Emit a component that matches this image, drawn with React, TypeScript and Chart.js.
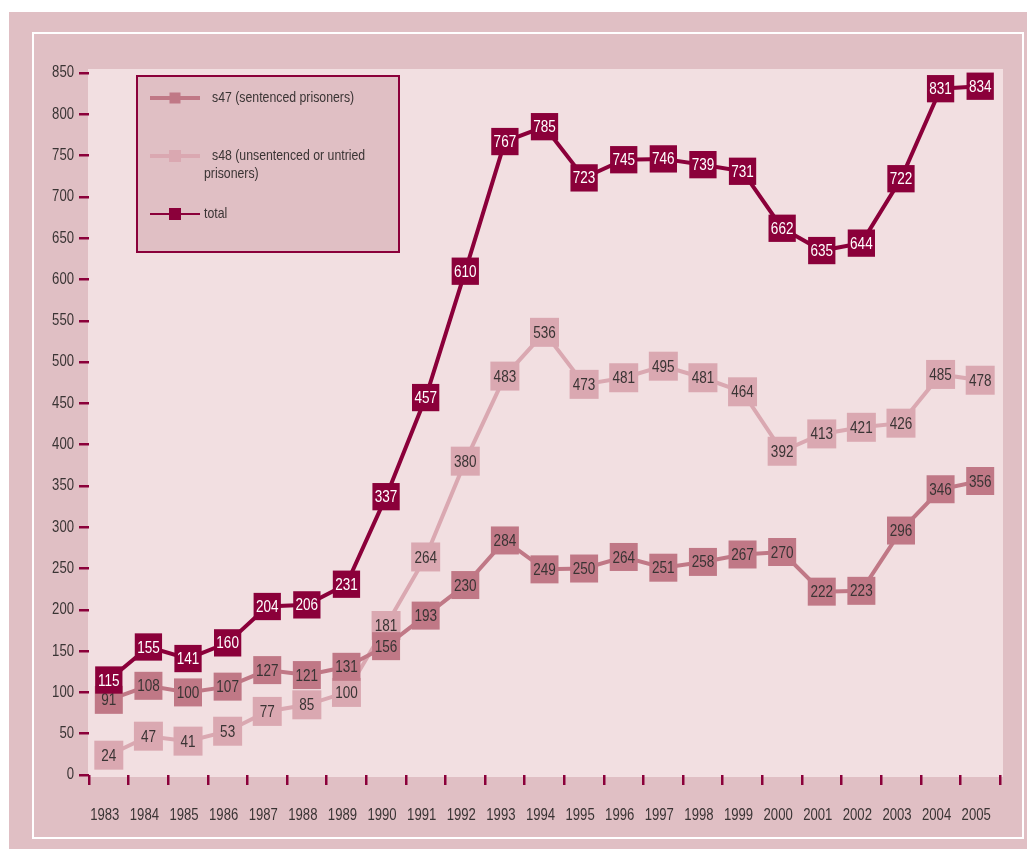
import React, { useEffect, useRef } from "react";
import { Chart, registerables } from "chart.js";

Chart.register(...registerables);

const years = ["1983", "1984", "1985", "1986", "1987", "1988", "1989", "1990", "1991", "1992", "1993", "1994", "1995", "1996", "1997", "1998", "1999", "2000", "2001", "2002", "2003", "2004", "2005"];
const s47 = [91, 108, 100, 107, 127, 121, 131, 156, 193, 230, 284, 249, 250, 264, 251, 258, 267, 270, 222, 223, 296, 346, 356];
const s48 = [24, 47, 41, 53, 77, 85, 100, 181, 264, 380, 483, 536, 473, 481, 495, 481, 464, 392, 413, 421, 426, 485, 478];
const total = [115, 155, 141, 160, 204, 206, 231, 337, 457, 610, 767, 785, 723, 745, 746, 739, 731, 662, 635, 644, 722, 831, 834];

const legendLabels = ["s47 (sentenced prisoners)", "s48 (unsentenced or untried", "prisoners)", "total"];

const FONT = "'Liberation Sans', Arial, sans-serif";
const SX = 0.82;
const C_TOTAL = "#8b003a";
const C_S47 = "#c07886";
const C_S48 = "#daa8b1";
const C_OUTER = "#e0bfc4";
const C_PLOT = "#f2dfe1";
const C_TEXT = "#3a3434";

const narrowFill = (ctx: any, text: string, x: number, y: number) => {
  ctx.save();
  ctx.translate(x, y);
  ctx.scale(SX, 1);
  ctx.fillText(text, 0, 0);
  ctx.restore();
};

const bgPlugin = {
  id: "bg",
  beforeDraw(chart: any) {
    const { ctx, chartArea: ca } = chart;
    ctx.save();
    ctx.fillStyle = C_OUTER;
    ctx.fillRect(9, 12, chart.width - 9, chart.height - 12);
    ctx.strokeStyle = "#ffffff";
    ctx.lineWidth = 2;
    ctx.strokeRect(33, 33, chart.width - 37, chart.height - 44);
    ctx.fillStyle = C_PLOT;
    ctx.fillRect(ca.left - 1, ca.top - 4, ca.right - ca.left + 4, ca.bottom - ca.top + 6);
    ctx.restore();
    // condense the axis tick labels drawn by Chart.js
    const orig = Object.getPrototypeOf(ctx).fillText;
    ctx.fillText = function (t: string, x: number, y: number, mw?: number) {
      this.save();
      this.translate(x, y);
      this.scale(SX, 1);
      orig.call(this, t, 0, 0);
      this.restore();
    };
  },
  beforeDatasetsDraw(chart: any) {
    delete chart.ctx.fillText;
  },
};

const labelPlugin = {
  id: "pointLabels",
  afterDatasetDraw(chart: any, args: any) {
    const { ctx } = chart;
    const meta = args.meta;
    const ds = chart.data.datasets[args.index];
    ctx.save();
    ctx.font = `16.5px ${FONT}`;
    ctx.textAlign = "center";
    ctx.textBaseline = "middle";
    ctx.fillStyle = ds.labelColor;
    meta.data.forEach((el: any, i: number) => {
      narrowFill(ctx, String(ds.data[i]), el.x, el.y + 1);
    });
    ctx.restore();
  },
};

const legendPlugin = {
  id: "customLegend",
  afterDraw(chart: any) {
    const { ctx, chartArea: ca } = chart;
    const x0 = ca.left + 48;
    const y0 = ca.top + 3;
    ctx.save();
    ctx.fillStyle = C_OUTER;
    ctx.fillRect(x0, y0, 262, 176);
    ctx.strokeStyle = C_TOTAL;
    ctx.lineWidth = 2;
    ctx.strokeRect(x0, y0, 262, 176);

    const item = (y: number, color: string, lw: number, m: number) => {
      ctx.strokeStyle = color;
      ctx.lineWidth = lw;
      ctx.beginPath();
      ctx.moveTo(x0 + 13, y);
      ctx.lineTo(x0 + 63, y);
      ctx.stroke();
      ctx.fillStyle = color;
      ctx.fillRect(x0 + 38 - m / 2, y - m / 2, m, m);
    };
    item(y0 + 22, C_S47, 4, 11);
    item(y0 + 80, C_S48, 4, 12);
    item(y0 + 138, C_TOTAL, 2, 12);

    ctx.fillStyle = C_TEXT;
    ctx.font = `15px ${FONT}`;
    ctx.textAlign = "left";
    ctx.textBaseline = "middle";
    narrowFill(ctx, legendLabels[0], x0 + 75, y0 + 22);
    narrowFill(ctx, legendLabels[1], x0 + 75, y0 + 80);
    narrowFill(ctx, legendLabels[2], x0 + 67, y0 + 98);
    narrowFill(ctx, legendLabels[3], x0 + 67, y0 + 138);
    ctx.restore();
  },
};

export default function App() {
  const ref = useRef<HTMLCanvasElement>(null);
  useEffect(() => {
    if (!ref.current) return;
    const chart = new Chart(ref.current, {
      type: "line",
      data: {
        labels: years,
        datasets: [
          {
            label: "s47 (sentenced prisoners)",
            data: s47,
            borderColor: C_S47,
            backgroundColor: C_S47,
            borderWidth: 4,
            pointStyle: "rect",
            pointRadius: 19.8,
            pointBorderWidth: 0,
            tension: 0,
            order: 1,
            clip: false,
            labelColor: C_TEXT,
          } as any,
          {
            label: "s48 (unsentenced or untried prisoners)",
            data: s48,
            borderColor: C_S48,
            backgroundColor: C_S48,
            borderWidth: 4,
            pointStyle: "rect",
            pointRadius: 20.5,
            pointBorderWidth: 0,
            tension: 0,
            order: 2,
            clip: false,
            labelColor: C_TEXT,
          } as any,
          {
            label: "total",
            data: total,
            borderColor: C_TOTAL,
            backgroundColor: C_TOTAL,
            borderWidth: 4,
            pointStyle: "rect",
            pointRadius: 19.3,
            pointBorderWidth: 0,
            tension: 0,
            order: 0,
            clip: false,
            labelColor: "#ffffff",
          } as any,
        ],
      },
      options: {
        animation: false,
        responsive: false,
        maintainAspectRatio: false,
        layout: { padding: { left: 29, top: 73, right: 27, bottom: 14 } },
        plugins: { legend: { display: false }, tooltip: { enabled: false } },
        scales: {
          x: {
            offset: true,
            grid: {
              offset: true,
              drawOnChartArea: false,
              drawTicks: true,
              tickLength: 10,
              color: C_TOTAL,
              lineWidth: 2.5,
            },
            border: { display: false },
            ticks: {
              color: C_TEXT,
              font: { family: FONT, size: 16 },
              padding: 21,
              labelOffset: -4,
              maxRotation: 0,
              autoSkip: false,
            },
            afterFit: (s: any) => {
              s.height = 60;
            },
          },
          y: {
            min: 0,
            max: 850,
            grid: {
              drawOnChartArea: false,
              drawTicks: true,
              tickLength: 10,
              color: C_TOTAL,
              lineWidth: 2.5,
            },
            border: { display: false },
            ticks: {
              stepSize: 50,
              color: C_TEXT,
              font: { family: FONT, size: 16 },
              padding: 5,
            },
            afterFit: (s: any) => {
              s.width = 60;
            },
          },
        },
      },
      plugins: [bgPlugin, labelPlugin, legendPlugin],
    });
    return () => chart.destroy();
  }, []);

  return (
    <div style={{ position: "absolute", left: 0, top: 0, width: 1027, height: 849 }}>
      <canvas ref={ref} width={1027} height={849} style={{ width: 1027, height: 849, display: "block" }} />
    </div>
  );
}
